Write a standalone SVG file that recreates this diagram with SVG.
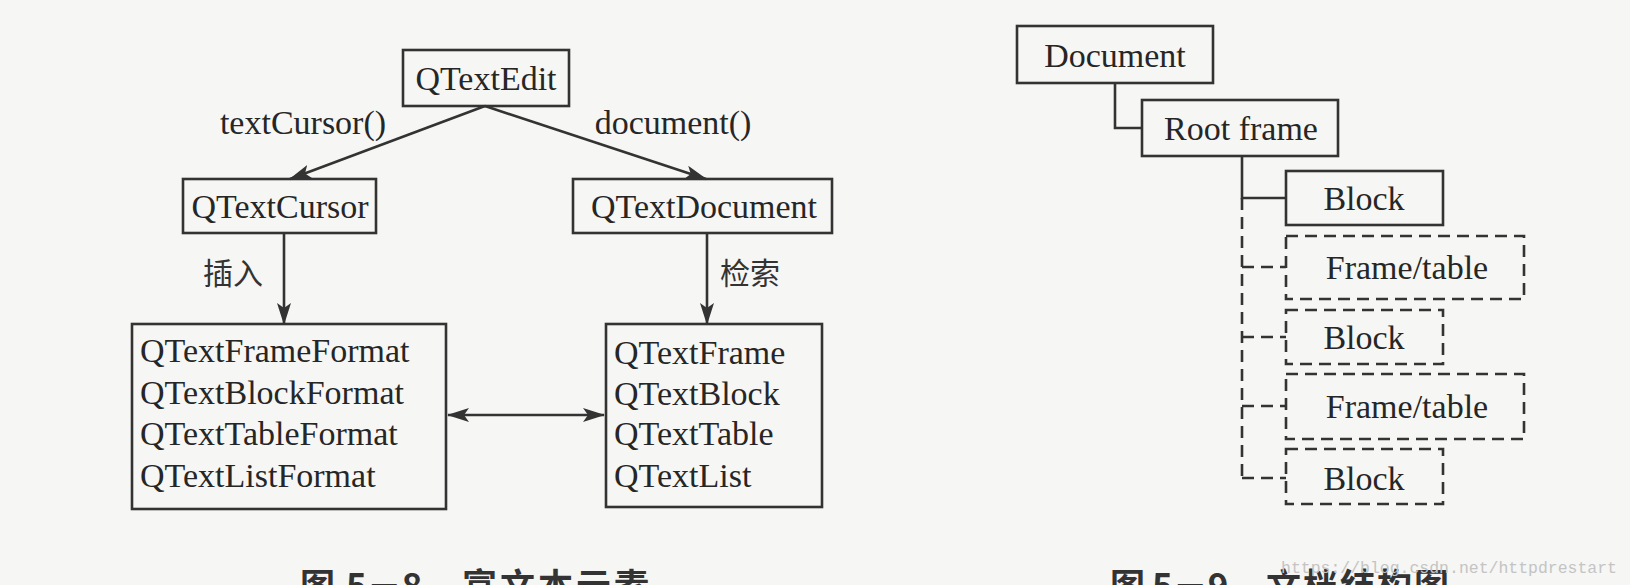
<svg xmlns="http://www.w3.org/2000/svg" width="1630" height="585" viewBox="0 0 1630 585">
<defs>
<marker id="arr" viewBox="0 0 22 14" refX="21" refY="7" markerWidth="22" markerHeight="14" markerUnits="userSpaceOnUse" orient="auto-start-reverse">
<path d="M0,0 L22,7 L0,14 L5,7 Z" fill="#333"/>
</marker>
<style>
.box{fill:none;stroke:#333;stroke-width:2.6}
.dbox{fill:none;stroke:#333;stroke-width:2.6;stroke-dasharray:12 7}
.ln{fill:none;stroke:#333;stroke-width:2.6}
.dln{fill:none;stroke:#333;stroke-width:2.6;stroke-dasharray:12 7}
.t{font-family:"Liberation Serif","Times New Roman",serif;font-size:34px;fill:#262626}
.c{text-anchor:middle}
.zh{font-family:"Noto Sans CJK SC","Noto Sans",sans-serif;font-size:30px;fill:#333}
.cap{font-family:"Noto Sans CJK SC","Noto Sans",sans-serif;font-size:35px;font-weight:bold;fill:#333}
.wm{font-family:"Liberation Mono","DejaVu Sans Mono",monospace;font-size:16.5px;fill:#c4c4c4}
</style>
</defs>
<rect width="1630" height="585" fill="#f6f6f4"/>

<g id="connectors">
<line class="ln" x1="485" y1="106" x2="290" y2="179" marker-end="url(#arr)"/>
<line class="ln" x1="485" y1="106" x2="706" y2="179" marker-end="url(#arr)"/>
<line class="ln" x1="284" y1="233" x2="284" y2="324" marker-end="url(#arr)"/>
<line class="ln" x1="707" y1="233" x2="707" y2="324" marker-end="url(#arr)"/>
<line class="ln" x1="448" y1="415" x2="604" y2="415" marker-start="url(#arr)" marker-end="url(#arr)"/>
<polyline class="ln" points="1115,83 1115,128 1142,128"/>
<polyline class="ln" points="1242,156 1242,198 1286,198"/>
<line class="dln" x1="1242" y1="198" x2="1242" y2="478"/>
<line class="dln" x1="1242" y1="267" x2="1286" y2="267"/>
<line class="dln" x1="1242" y1="337" x2="1286" y2="337"/>
<line class="dln" x1="1242" y1="406" x2="1286" y2="406"/>
<line class="dln" x1="1242" y1="478" x2="1286" y2="478"/>
</g>

<g id="lbl-textCursor"><text class="t c" x="303" y="134">textCursor()</text></g>
<g id="lbl-document"><text class="t c" x="673" y="134">document()</text></g>
<g id="lbl-insert"><text class="zh" x="203" y="284">插入</text></g>
<g id="lbl-search"><text class="zh" x="720" y="284">检索</text></g>

<g id="n-qtextedit"><rect class="box" x="403" y="50" width="166" height="56"/><text class="t c" x="486" y="90">QTextEdit</text></g>
<g id="n-qtextcursor"><rect class="box" x="183" y="179" width="193" height="54"/><text class="t c" x="280" y="218">QTextCursor</text></g>
<g id="n-qtextdocument"><rect class="box" x="573" y="179" width="259" height="54"/><text class="t c" x="704" y="218">QTextDocument</text></g>
<g id="n-formats"><rect class="box" x="132" y="324" width="314" height="185"/>
<text class="t" x="140" y="362">QTextFrameFormat</text>
<text class="t" x="140" y="404">QTextBlockFormat</text>
<text class="t" x="140" y="445">QTextTableFormat</text>
<text class="t" x="140" y="487">QTextListFormat</text></g>
<g id="n-elements"><rect class="box" x="606" y="324" width="216" height="183"/>
<text class="t" x="614" y="364">QTextFrame</text>
<text class="t" x="614" y="405">QTextBlock</text>
<text class="t" x="614" y="445">QTextTable</text>
<text class="t" x="614" y="487">QTextList</text></g>

<g id="n-document"><rect class="box" x="1017" y="26" width="196" height="57"/><text class="t c" x="1115" y="67">Document</text></g>
<g id="n-rootframe"><rect class="box" x="1142" y="100" width="196" height="56"/><text class="t c" x="1241" y="140">Root frame</text></g>
<g id="n-block1"><rect class="box" x="1286" y="171" width="157" height="54"/><text class="t c" x="1364" y="210">Block</text></g>
<g id="n-frame1"><rect class="dbox" x="1286" y="236" width="238" height="63"/><text class="t c" x="1407" y="279">Frame/table</text></g>
<g id="n-block2"><rect class="dbox" x="1286" y="310" width="157" height="54"/><text class="t c" x="1364" y="349">Block</text></g>
<g id="n-frame2"><rect class="dbox" x="1286" y="374" width="238" height="65"/><text class="t c" x="1407" y="418">Frame/table</text></g>
<g id="n-block3"><rect class="dbox" x="1286" y="449" width="157" height="55"/><text class="t c" x="1364" y="490">Block</text></g>

<g id="captions">
<text class="cap" x="300" y="599">图</text>
<text class="cap" x="346" y="599">5－8</text>
<text class="cap" x="462" y="599" letter-spacing="3">富文本元素</text>
<text class="cap" x="1110" y="599">图</text>
<text class="cap" x="1152" y="599">5－9</text>
<text class="cap" x="1266" y="599" letter-spacing="2">文档结构图</text>
<text class="wm" x="1281" y="573" textLength="336" lengthAdjust="spacingAndGlyphs">https://blog.csdn.net/httpdrestart</text>
</g>
</svg>
